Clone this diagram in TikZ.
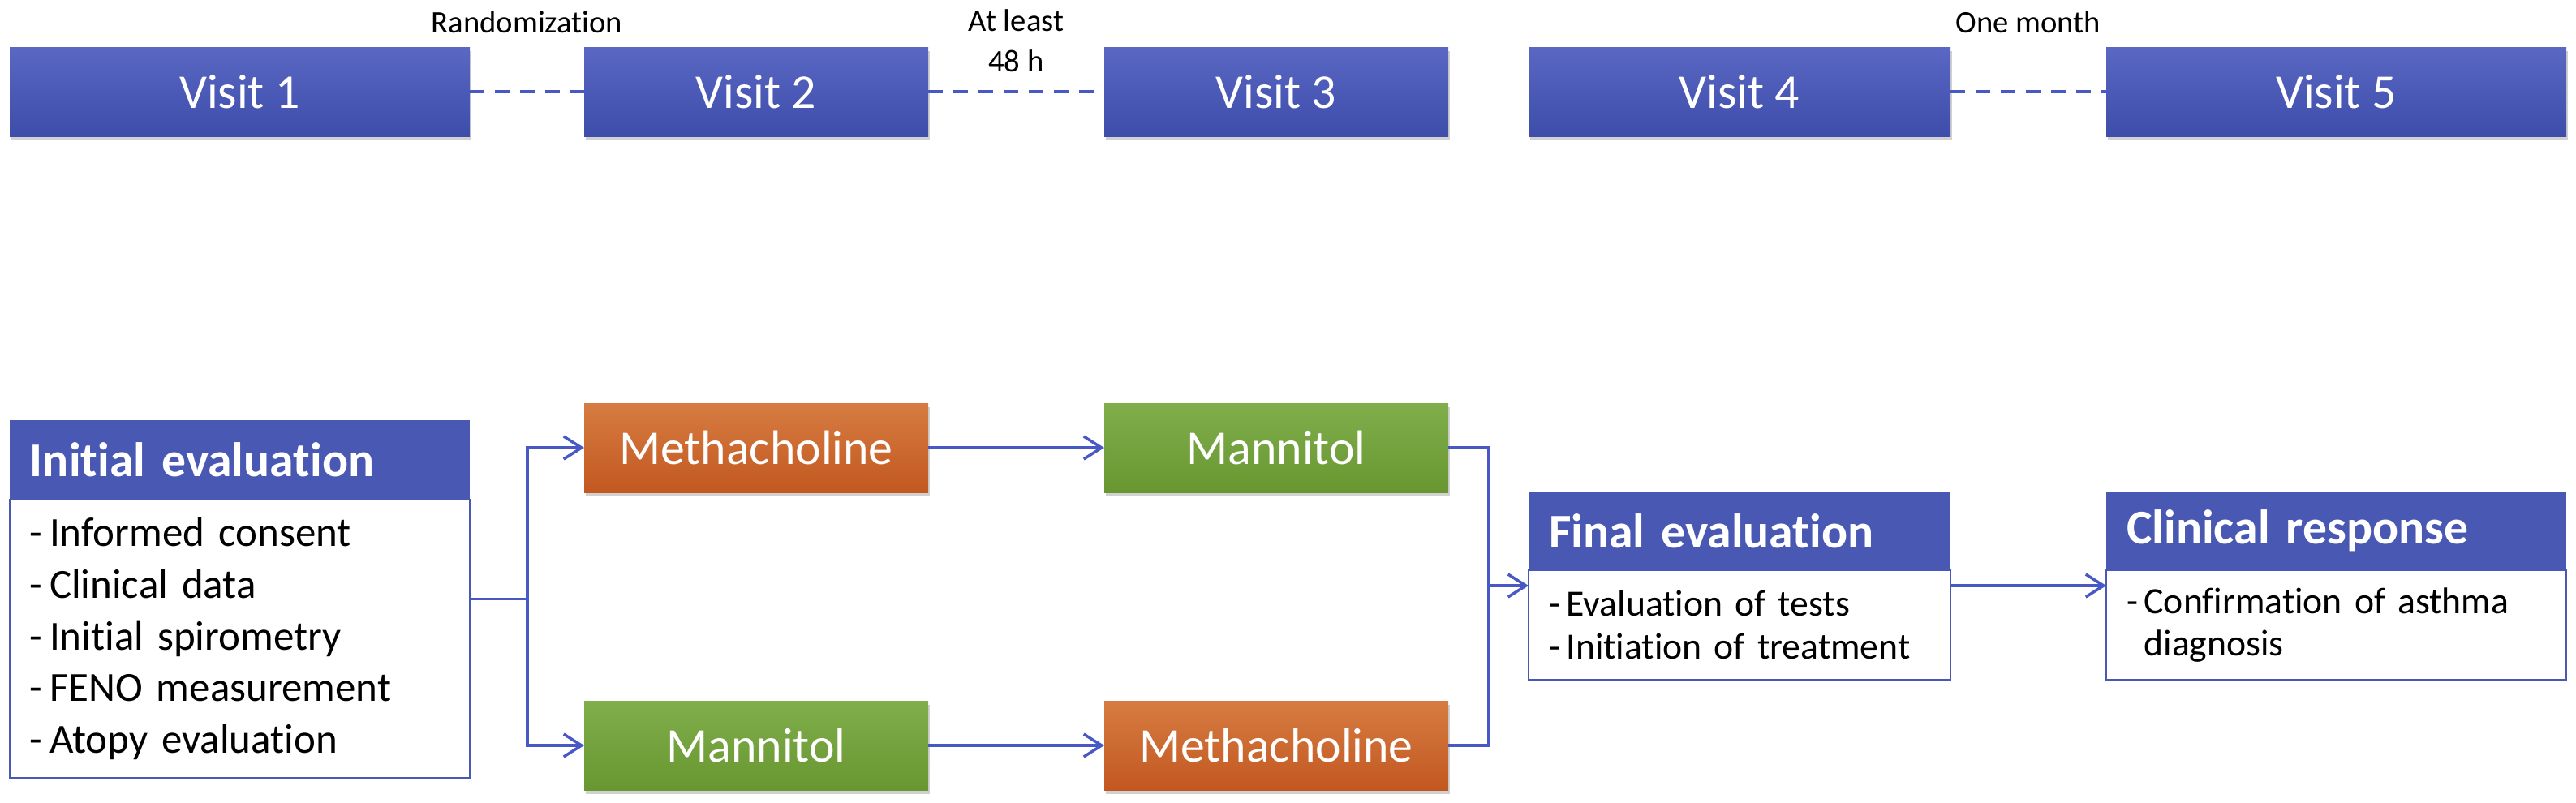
\documentclass[tikz,border=0pt]{standalone}
\usepackage{fontspec}
\setmainfont{Carlito}[Ligatures=NoCommon]
\usetikzlibrary{positioning, arrows.meta,
fit, % outline round header and list
shadows
}
\definecolor{hdblue}{RGB}{72,88,179}
\definecolor{vtop}{RGB}{90,104,196}
\definecolor{vbot}{RGB}{62,76,170}
\definecolor{ortop}{RGB}{214,124,66}
\definecolor{orbot}{RGB}{194,88,32}
\definecolor{grtop}{RGB}{128,174,76}
\definecolor{grbot}{RGB}{104,150,48}
\definecolor{lnblue}{RGB}{72,88,196}

\begin{document}
\begin{tikzpicture}[node distance=1cm,%
  every node/.style={outer sep=0pt},
  box/.style={rectangle, minimum height=1.1cm, text=white, font=\fontsize{17}{20}\selectfont,
    drop shadow={shadow xshift=0.02cm, shadow yshift=-0.05cm, opacity=0.3, fill=black!60}},
  visit/.style={box, top color=vtop, bottom color=vbot},
  mch/.style={box, minimum width=4.24cm, top color=ortop, bottom color=orbot},
  mnt/.style={box, minimum width=4.24cm, top color=grtop, bottom color=grbot},
  head/.style={fill=hdblue, text=white, font=\bfseries\fontsize{17}{20}\selectfont, align=left,
    inner xsep=0.25cm, minimum height=0.98cm},
  list/.style={draw=hdblue, line width=0.6pt, fill=white, align=left, inner xsep=0.25cm},
  lbl/.style={font=\fontsize{11}{14.2}\selectfont, align=center},
  link/.style={draw=lnblue, line width=1pt},
  dashlink/.style={link, line width=1.2pt, dash pattern=on 0.18cm off 0.13cm},
  >={Straight Barb[length=0.22cm, width=0.28cm]}
  ]
  \useasboundingbox (0,0) rectangle (31.75,-9.89);
  \node[visit, minimum width=5.67cm] (v1) at (2.955,-1.13) {Visit 1};
  \node[visit, minimum width=4.24cm, right=1.41cm of v1] (v2) {Visit 2};
  \node[visit, minimum width=4.24cm, right=2.17cm of v2] (v3) {Visit 3};
  \node[visit, minimum width=5.2cm, right=0.99cm of v3] (v4) {Visit 4};
  \node[visit, minimum width=5.67cm, right=1.92cm of v4] (v5) {Visit 5};
    \draw[dashlink] (v1) -- node[lbl, yshift=0.86cm] (rand) {Randomization} (v2);
    \draw[dashlink] (v2) -- node[lbl, yshift=0.63cm] (wait) {At least\\48 h} (v3);
    \draw[dashlink] (v4) -- node[lbl, yshift=0.86cm] (month) {One month} (v5);

  \node[head, text width=5.17cm, below=3.5cm of v1] (ihead) {Initial evaluation};
  \node[list, text width=5.17cm, minimum height=3.43cm, below=0pt of ihead,
    font=\fontsize{14.5}{18.1}\selectfont] (ibody)
    {-\,Informed consent\\-\,Clinical data\\-\,Initial spirometry\\-\,FENO measurement\\-\,Atopy evaluation};
  \node[fit=(ihead)(ibody), inner sep=0pt] (init) {};

  \node[mch, below=3.29cm of v2] (meth1) {Methacholine};
  \node[mnt, below=2.57cm of meth1] (mann1) {Mannitol};
  \node[mnt, below=3.29cm of v3] (mann2) {Mannitol};
  \node[mch, below=2.57cm of mann2] (meth2) {Methacholine};

  \node[head, text width=4.7cm, minimum height=0.97cm, below=4.38cm of v4] (fhead) {Final evaluation};
  \node[list, text width=4.7cm, minimum height=1.35cm, below=0pt of fhead,
    font=\fontsize{13}{15}\selectfont] (fbody) {-\,Evaluation of tests\\-\,Initiation of treatment};
  \node[fit=(fhead)(fbody), inner sep=0pt] (fin) {};

  \node[head, text width=5.17cm, minimum height=0.97cm, below=4.38cm of v5] (chead) {Clinical response};
  \node[list, text width=5.17cm, minimum height=1.35cm, below=0pt of chead,
    font=\fontsize{13}{15}\selectfont] (cbody) {-\,Confirmation of asthma\\\phantom{-\,}diagnosis};
  \node[fit=(chead)(cbody), inner sep=0pt] (clin) {};

  \coordinate[right=0.71cm of init] (split);
  \coordinate[left=0.49cm of fin] (join);
    \draw[link] (init.east) -- (split);
    \draw[link, ->] (split) |- (meth1.west);
    \draw[link, ->] (split) |- (mann1.west);
    \draw[link, ->] (meth1) -- (mann2);
    \draw[link, ->] (mann1) -- (meth2);
    \draw[link] (mann2.east) -| (join);
    \draw[link] (meth2.east) -| (join);
    \draw[link, ->] (join) -- (fin.west);
    \draw[link, ->] (fin) -- (clin);
\end{tikzpicture}
\end{document}
